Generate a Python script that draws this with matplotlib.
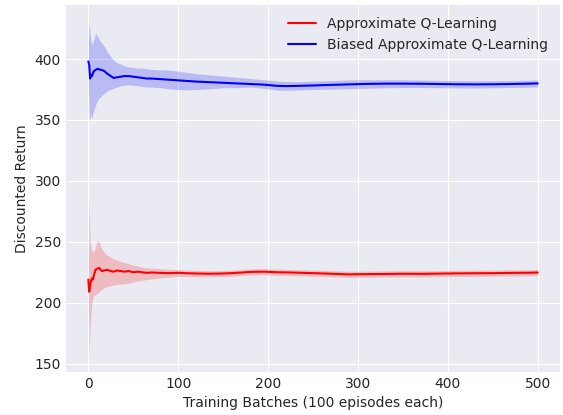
import numpy as np
import matplotlib
matplotlib.use("Agg")
import matplotlib.pyplot as plt

plt.style.use("seaborn-v0_8-darkgrid")
plt.rcParams["font.family"] = ["DejaVu Sans"]

batches = [0, 1, 2, 3, 4, 5, 6, 8, 10, 12, 15, 18, 21, 25, 28, 32, 36, 40, 45, 50,
           55, 60, 65, 70, 80, 90, 100, 110, 120, 135, 150, 165, 180, 195, 210, 220,
           235, 250, 270, 290, 310, 330, 350, 370, 390, 410, 430, 450, 470, 490, 500]

# Approximate Q-Learning (red)
aql_mean = [219, 209, 214, 218, 220, 219, 222, 227, 228, 228.5, 226, 226.5, 227, 226,
            225.5, 226.5, 226, 225.5, 226, 225, 225.5, 225, 224.5, 224.8, 224.5, 224.3,
            224.6, 224.2, 224, 223.8, 224, 224.5, 225.3, 225.5, 225, 224.9, 224.6, 224.3,
            223.8, 223.3, 223.5, 223.6, 223.8, 223.7, 223.9, 224.1, 224.2, 224.3, 224.5,
            224.6, 224.8]
aql_upper = [232, 282, 250, 244, 242, 243, 241, 246, 251, 250, 244, 241, 239, 237.5,
             236, 235, 234, 233, 232, 231, 230, 229.3, 228.7, 228.3, 227.8, 227.4, 227.2,
             226.8, 226.5, 226.3, 226.5, 227, 227.8, 228, 227.5, 227.4, 227.1, 226.8,
             226.3, 225.8, 226, 226.1, 226.3, 226.2, 226.4, 226.6, 226.7, 226.8, 227,
             227.1, 227.3]
aql_lower = [205, 157, 180, 192, 199, 204, 206, 206.5, 208, 209, 211, 212.5, 213.5, 214,
             214.5, 215, 215.3, 215.6, 216, 217, 217.8, 218.5, 219, 219.5, 220.3, 221,
             221.6, 221.5, 221.4, 221.3, 221.5, 222, 222.8, 223, 222.5, 222.4, 222.1,
             221.8, 221.3, 220.8, 221, 221.1, 221.3, 221.2, 221.4, 221.6, 221.7, 221.8,
             222, 222.1, 222.3]

# Biased Approximate Q-Learning (blue)
baql_mean = [398, 395, 384, 387, 386, 388, 390, 391, 392, 391.5, 391, 390, 388, 386,
             384.5, 385, 385.5, 386, 386, 385.5, 385, 384.5, 384, 384, 383.5, 383, 382.5,
             382, 381.5, 381, 380.5, 380, 379.5, 379, 378, 377.8, 378, 378.3, 378.8,
             379.2, 379.6, 379.8, 379.8, 379.7, 379.5, 379.3, 379.2, 379.3, 379.5, 379.8,
             380]
baql_upper = [415, 431, 420, 415, 412, 413, 416, 421, 419, 416, 413, 410, 406, 402, 399,
              397, 396, 394.5, 393.5, 393, 392.5, 392.5, 392, 391.5, 391, 391, 390, 389,
              388, 387, 386, 385, 384, 383, 382, 381.5, 381.5, 381.8, 382.3, 382.8, 383,
              383, 383, 382.8, 382.5, 382.3, 382.2, 382.2, 382.4, 382.6, 382.8]
baql_lower = [380, 352, 350, 355, 351, 355, 358, 362, 366, 368, 370, 372, 374, 375, 376,
              377, 378, 378.5, 378.7, 378.5, 378, 377.5, 377, 377, 376.5, 375.5, 375,
              374.7, 375, 375.5, 376.5, 376.5, 377, 376, 374.5, 374.3, 374.5, 375, 375.3,
              375.6, 376, 376.4, 376.6, 376.6, 376.5, 376.3, 376.2, 376.4, 376.6, 377,
              377.2]

fig, ax = plt.subplots(figsize=(5.63, 4.15), dpi=100)
fig.subplots_adjust(left=0.117, right=0.995, bottom=0.104, top=0.989)

ax.plot(batches, aql_mean, color="red", label="Approximate Q-Learning")
ax.fill_between(batches, aql_lower, aql_upper, color="red", alpha=0.2, linewidth=0)
ax.plot(batches, baql_mean, color="blue", label="Biased Approximate Q-Learning")
ax.fill_between(batches, baql_lower, baql_upper, color="blue", alpha=0.2, linewidth=0)

ax.set_xlabel("Training Batches (100 episodes each)")
ax.set_ylabel("Discounted Return")
ax.legend(loc="upper right")

fig.savefig("out.png", dpi=100)
